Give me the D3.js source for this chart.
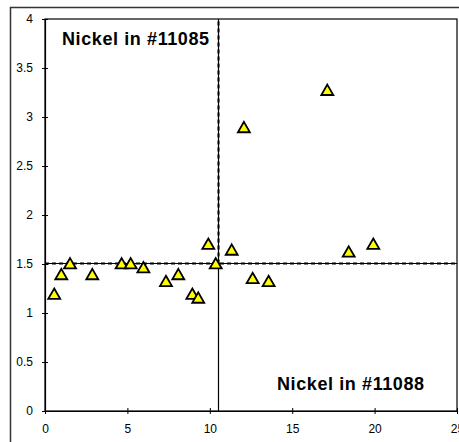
<!DOCTYPE html>
<html>
<head>
<meta charset="utf-8">
<script src="https://cdn.jsdelivr.net/npm/d3@7"></script>
<style>
  body { margin: 0; background: #fff; }
  svg { display: block; font-family: "Liberation Sans", Arial, sans-serif; }
  .tick text { font-size: 12px; fill: #000; }
  .quad { font-size: 18px; font-weight: bold; letter-spacing: 0.6px; }
</style>
</head>
<body>
<div class="chart"></div>
<script>
// Nickel in sample #11088 (x) against #11085 (y)
const nickel11088 = [0.56, 0.99, 1.52, 2.87, 4.65, 5.2, 5.97, 7.34, 8.09, 8.94,
  9.3, 9.91, 10.36, 11.33, 12.6, 13.57, 18.43, 19.92, 17.13, 12.07]
const nickel11085 = [1.19, 1.39, 1.5, 1.39, 1.5, 1.5, 1.46, 1.32, 1.39, 1.19,
  1.15, 1.7, 1.5, 1.64, 1.35, 1.32, 1.62, 1.7, 3.27, 2.89]

// reference lines
const limit11088 = 10.5
const limit11085 = 1.5

const xTicks = [0, 5, 10, 15, 20, 25]
const yTicks = [0, 0.5, 1, 1.5, 2, 2.5, 3, 3.5, 4]

const width = 459
const height = 442
const plot = { left: 45, right: 457, top: 19, bottom: 411 }

const svg = d3.select('.chart')
  .append('svg')
  .attr('width', width)
  .attr('height', height)

// outer chart frame (runs off the right and bottom edges)
svg.append('path')
  .attr('d', `M10.5,${height + 5}V7.5H${width + 5}`)
  .attr('fill', 'none')
  .attr('stroke', '#333')
  .attr('stroke-width', 1.5)

const xScale = d3.scaleLinear()
  .domain([0, 25])
  .range([plot.left, plot.right])

const yScale = d3.scaleLinear()
  .domain([0, 4])
  .range([plot.bottom, plot.top])

// plot area box
svg.append('rect')
  .attr('x', plot.left)
  .attr('y', plot.top)
  .attr('width', plot.right - plot.left)
  .attr('height', plot.bottom - plot.top)
  .attr('fill', '#fff')
  .attr('stroke', '#000')
  .attr('stroke-width', 1.2)

const xAxis = d3.axisBottom(xScale)
  .tickValues(xTicks)
  .tickFormat(d3.format('d'))
  .tickSizeInner(3)
  .tickSizeOuter(0)
  .tickPadding(10)

const yAxis = d3.axisLeft(yScale)
  .tickValues(yTicks)
  .tickFormat(d => d)
  .tickSizeInner(3)
  .tickSizeOuter(0)
  .tickPadding(9)

const gx = svg.append('g')
  .attr('transform', `translate(0, ${plot.bottom})`)
  .call(xAxis)
gx.selectAll('.tick line').attr('y1', -3).attr('y2', 3)

const gy = svg.append('g')
  .attr('transform', `translate(${plot.left}, 0)`)
  .call(yAxis)
gy.selectAll('.tick line').attr('x1', -3).attr('x2', 3)

svg.selectAll('.domain').attr('stroke', '#000').attr('stroke-width', 1.2)
svg.selectAll('.tick line').attr('stroke', '#000')

// threshold lines: thin solid base with dashed overlay
const vx = Math.round(xScale(limit11088)) + 0.5
const hy = Math.round(yScale(limit11085)) - 0.5
const refs = svg.append('g')
refs.append('line')
  .attr('x1', vx).attr('x2', vx)
  .attr('y1', yScale(0)).attr('y2', yScale(4))
  .attr('stroke', '#000').attr('stroke-width', 1.2)
refs.append('line')
  .attr('x1', vx).attr('x2', vx)
  .attr('y1', hy).attr('y2', yScale(4))
  .attr('stroke', '#000').attr('stroke-width', 2)
  .attr('stroke-dasharray', '4,3')
refs.append('line')
  .attr('x1', xScale(0)).attr('x2', xScale(25))
  .attr('y1', hy).attr('y2', hy)
  .attr('stroke', '#000').attr('stroke-width', 1)
refs.append('line')
  .attr('x1', xScale(0)).attr('x2', xScale(25))
  .attr('y1', hy).attr('y2', hy)
  .attr('stroke', '#000').attr('stroke-width', 2)
  .attr('stroke-dasharray', '4,3')

// triangles
const triangle = d3.symbol().type(d3.symbolTriangle).size(62)
svg.append('g')
  .selectAll('path')
  .data(nickel11088.map((x, i) => ({ x, y: nickel11085[i] })))
  .enter()
  .append('path')
  .attr('d', triangle)
  .attr('transform', d => `translate(${xScale(d.x)}, ${yScale(d.y) + 1})`)
  .attr('fill', '#ffff00')
  .attr('stroke', '#000')
  .attr('stroke-width', 1.8)
  .attr('stroke-linejoin', 'miter')

svg.append('text')
  .attr('class', 'quad')
  .attr('x', 62)
  .attr('y', 45)
  .text('Nickel in #11085')

svg.append('text')
  .attr('class', 'quad')
  .attr('x', 277)
  .attr('y', 390)
  .text('Nickel in #11088')
</script>
</body>
</html>
